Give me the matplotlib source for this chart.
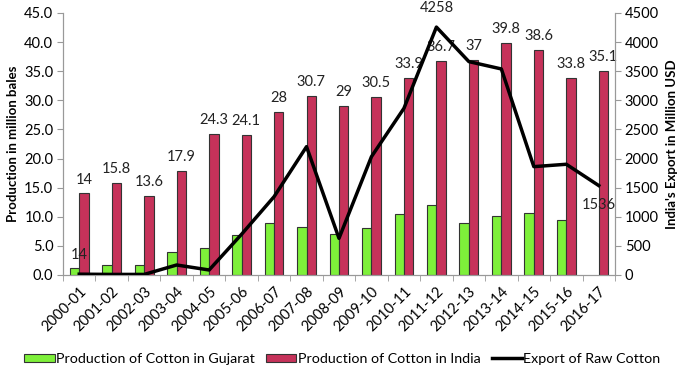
import matplotlib
matplotlib.use("Agg")
import matplotlib.pyplot as plt
import matplotlib.transforms as mtrans
import numpy as np

years = ["2000-01", "2001-02", "2002-03", "2003-04", "2004-05", "2005-06", "2006-07",
         "2007-08", "2008-09", "2009-10", "2010-11", "2011-12", "2012-13", "2013-14",
         "2014-15", "2015-16", "2016-17"]
gujarat = [1.2, 1.7, 1.7, 4.0, 4.7, 6.8, 8.9, 8.3, 7.0, 8.0, 10.4, 12.0, 8.9, 10.2, 10.6, 9.4, np.nan]
india = [14, 15.8, 13.6, 17.9, 24.3, 24.1, 28, 30.7, 29, 30.5, 33.9, 36.7, 37, 39.8, 38.6, 33.8, 35.1]
export = [14, 10, 10, 172, 86, 700, 1345, 2204, 630, 2033, 2863, 4258, 3665, 3539, 1861, 1902, 1536]
export_labels = {0: "14", 11: "4258", 16: "1536"}

plt.rcParams['font.family'] = ['Lato', 'DejaVu Sans']
fig = plt.figure(figsize=(6.85, 3.69), dpi=100)
ax = fig.add_axes([63/685, 1-275/369, (615-63)/685, (275-13)/369])
ax2 = ax.twinx()

FS = 10.5
x = np.arange(len(years))
w = 0.29
green = "#7EF03A"
red = "#C6325A"
ax.bar(x - w/2, gujarat, w, color=green, edgecolor="#333333", linewidth=0.8,
       label="Production of Cotton in Gujarat", zorder=2)
ax.bar(x + w/2, india, w, color=red, edgecolor="#333333", linewidth=0.8,
       label="Production of Cotton in India", zorder=2)
for xi, v in zip(x, india):
    ax.annotate(f"{v:g}", (xi + w/2, v), xytext=(0, 5), textcoords="offset points",
                ha="center", va="bottom", fontsize=FS, color="#222222")

ax.set_xlim(-0.5, len(years) - 0.5)
ax.set_ylim(0, 45)
ax.set_yticks(np.arange(0, 45.1, 5))
ax.set_yticklabels([f"{v:.1f}" for v in np.arange(0, 45.1, 5)], fontsize=FS)
ax.set_xticks(x)
ax.set_xticklabels(years, rotation=45, ha="right", rotation_mode="anchor", fontsize=FS)
shift = mtrans.ScaledTranslation(5/100, -4/100, fig.dpi_scale_trans)
for lab in ax.get_xticklabels():
    lab.set_transform(lab.get_transform() + shift)
ax.set_xticks(np.arange(-0.5, len(years), 1), minor=True)
ax.tick_params(axis="x", which="major", length=0, pad=7)
ax.tick_params(axis="x", which="minor", length=4, color="#999999")
ax.tick_params(axis="y", length=4, color="#999999", pad=3)
ax.set_ylabel("Production in million bales", fontsize=9.5, fontweight="bold", labelpad=4)

ax2.set_ylim(0, 4500)
ax2.set_yticks(np.arange(0, 4501, 500))
ax2.set_yticklabels([str(v) for v in range(0, 4501, 500)], fontsize=FS)
ax2.tick_params(axis="y", length=4, color="#999999", pad=3)
line, = ax2.plot(x, export, color="black", linewidth=2.5, label="Export of Raw Cotton", zorder=3)
for i, t in export_labels.items():
    off = -14 if i == 16 else 9
    ax2.annotate(t, (x[i], export[i]), xytext=(0, off), textcoords="offset points",
                 ha="center", va="center" if off < 0 else "bottom", fontsize=FS, color="#222222")
ax2.set_ylabel("India's Export in Million USD", fontsize=9.5, fontweight="bold", labelpad=5)

for a in (ax, ax2):
    a.spines["top"].set_visible(False)
    for s in ("left", "right", "bottom"):
        a.spines[s].set_color("#999999")

h1, l1 = ax.get_legend_handles_labels()
fig.legend(h1 + [line], l1 + ["Export of Raw Cotton"], loc="center", bbox_to_anchor=(0.5, 1-359/369),
           ncol=3, frameon=False, fontsize=10.3, handlelength=2.1, handleheight=0.55,
           handletextpad=0.1, columnspacing=0.8)

fig.savefig("out.png", dpi=100)
